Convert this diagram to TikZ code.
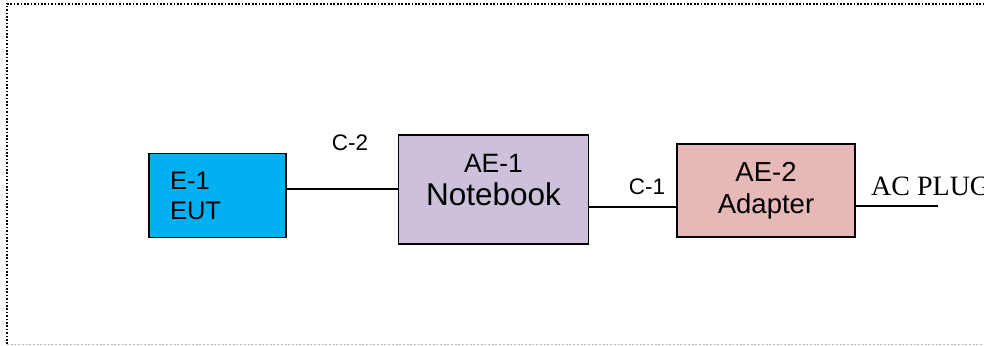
\documentclass[tikz,border=0pt]{standalone}
\usepackage{fontspec}
\setmainfont{Liberation Sans}
\newfontfamily\plugfont{Liberation Serif}
\usepackage{tikz}
\definecolor{eutblue}{RGB}{0,176,240}
\definecolor{nblilac}{RGB}{204,192,218}
\definecolor{adpink}{RGB}{230,184,183}
\definecolor{framegray}{RGB}{185,185,185}

\begin{document}
\begin{tikzpicture}[x=1pt, y=-1pt,
        unit/.style={draw, line width=1.4pt, inner sep=0pt, align=center},
        cable/.style={line width=1.2pt},
        tag/.style={anchor=base, inner sep=0pt, font=\fontsize{22.5}{26}\selectfont}]
    \useasboundingbox (0, 0) rectangle (984, 345);
    % Frame
    \draw[line width=1.3pt, dash pattern=on 1.7pt off 1.7pt]
        (7, 344) -- (7, 4) -- (986, 4);
    \draw[framegray, line width=0.8pt, dash pattern=on 2pt off 1.7pt]
        (7, 344) -- (986, 344);
    % Units
    \node[unit, fill=eutblue, minimum width=137pt, minimum height=84pt,
        text width=95pt, align=left, font=\fontsize{25.5}{30}\selectfont]
        (eut) at (217.5, 195.5) {E-1\\EUT};
    \node[unit, fill=nblilac, minimum width=190pt, minimum height=109pt,
        text depth=19pt, font=\fontsize{26.5}{32.4}\selectfont]
        (nb) at (493.5, 189.5) {AE-1\\{\fontsize{31.5}{32.4}\selectfont Notebook}};
    \node[unit, fill=adpink, minimum width=178pt, minimum height=93pt,
        font=\fontsize{27.5}{31.6}\selectfont]
        (ad) at (766, 190.5) {AE-2\\Adapter};
    % Cables
    \draw[cable] ([yshift=6.5pt]eut.east) -- ([yshift=6.5pt]eut.east -| nb.west);
    \draw[cable] ([yshift=-17.5pt]nb.east) -- ([yshift=-17.5pt]nb.east -| ad.west);
    \coordinate (plug) at (938, 206);
    \draw[cable] (ad.east |- plug) -- (plug);
    \node[tag] (c2) at (350, 150) {C-2};
    \node[tag] (c1) at (647, 194) {C-1};
    \node[tag, anchor=base west, font=\plugfont\fontsize{28}{30}\selectfont]
        (ac) at (871, 195) {AC PLUG};
\end{tikzpicture}
\end{document}
